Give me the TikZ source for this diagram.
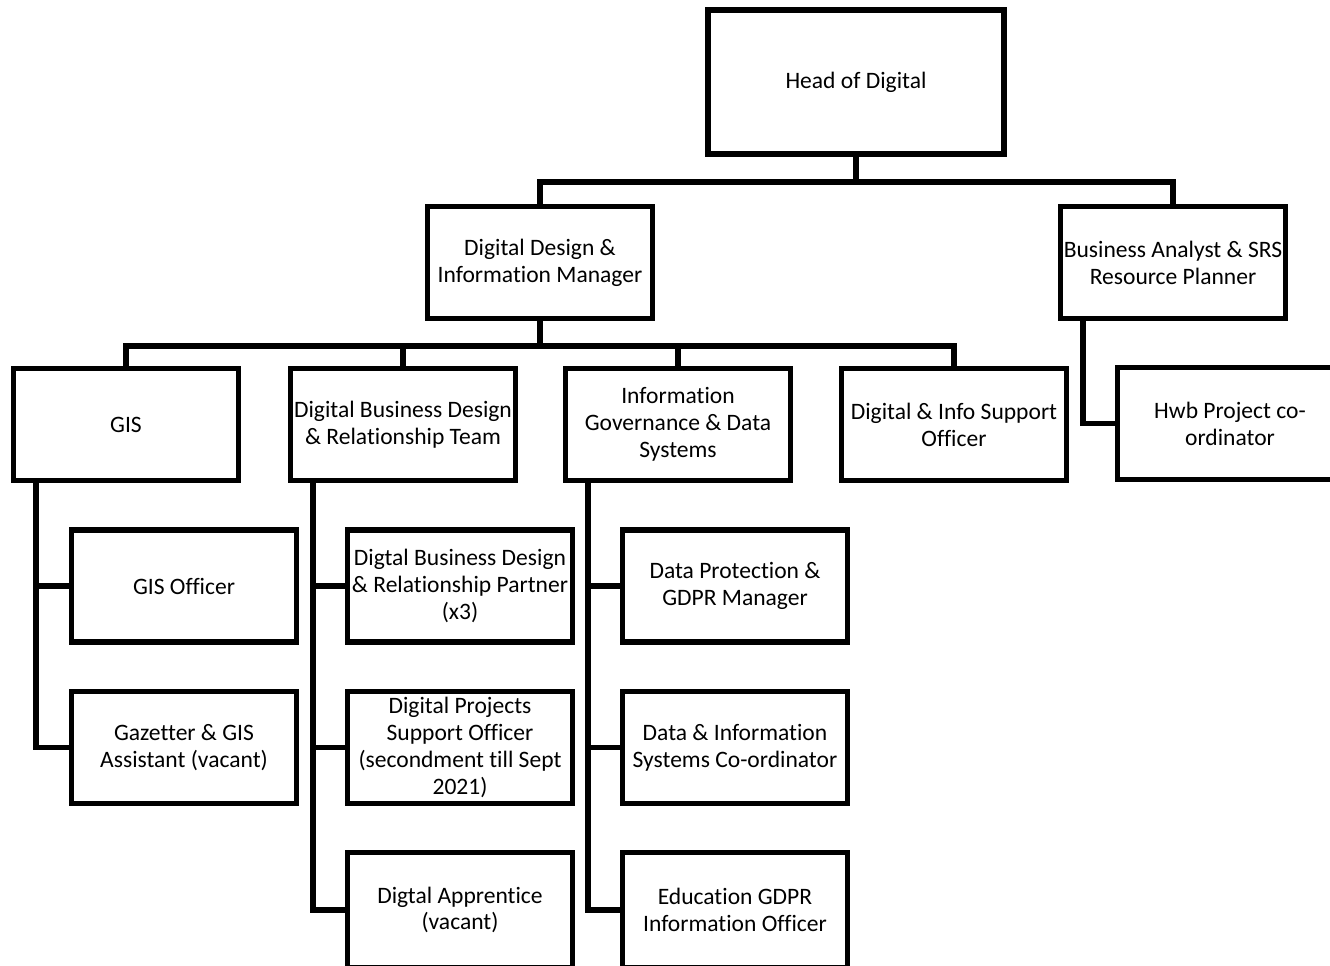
\documentclass[tikz,border=0pt]{standalone}
\usepackage{fontspec}
\setmainfont{Carlito}[Ligatures={NoCommon}]
\usepackage{tikz}
\usetikzlibrary{positioning,calc}

\tikzset{
    post/.style={draw, rectangle, line width=2.9pt, minimum width=4.5cm, minimum height=2.24cm, align=center, inner sep=0pt, font=\fontsize{13.4}{15.3}\selectfont},
    link/.style={line width=2.9pt}
}

\begin{document}
\begin{tikzpicture}
    \useasboundingbox (0,0) rectangle (26.6,-19.32);
    \clip (0,0) rectangle (26.6,-19.32);

    % Top level
    \node [post, minimum width=5.92cm, minimum height=2.88cm] (head) at (17.12,-1.64) {Head of Digital};
    \node [post] (ddim) at (10.8,-5.25) {Digital Design \&\\Information Manager};
    \node [post] (ba) at (23.46,-5.25) {Business Analyst \& SRS\\Resource Planner};

    % Teams
    \node [post] (gis) at (2.52,-8.49) {GIS};
    \node [post] (dbdrt) at (8.06,-8.49) {Digital Business Design\\\& Relationship Team};
    \node [post] (igds) at (13.56,-8.49) {Information\\Governance \& Data\\Systems};
    \node [post] (diso) at (19.08,-8.49) {Digital \& Info Support\\Officer};
    \node [post] (hwb) at (24.6,-8.47) {Hwb Project co-\\ordinator};

    % Posts under the teams
    \node [post] (gisoff) at (3.68,-11.72) {GIS Officer};
    \node [post] (gaz) at (3.68,-14.95) {Gazetter \& GIS\\Assistant (vacant)};
    \node [post] (dbdrp) at (9.2,-11.72) {Digtal Business Design\\\& Relationship Partner\\(x3)};
    \node [post] (dpso) at (9.2,-14.95) {Digital Projects\\Support Officer\\(secondment till Sept\\2021)};
    \node [post, minimum height=2.3cm] (appr) at (9.2,-18.2) {Digtal Apprentice\\(vacant)};
    \node [post] (dpgm) at (14.7,-11.72) {Data Protection \&\\GDPR Manager};
    \node [post] (disc) at (14.7,-14.95) {Data \& Information\\Systems Co-ordinator};
    \node [post, minimum height=2.3cm] (egio) at (14.7,-18.2) {Education GDPR\\Information Officer};

    % Connections
    \coordinate (bus1) at (17.12,-3.64);
    \coordinate (bus2) at (10.8,-6.92);
    \draw [link] (head.south) -- (bus1);
    \draw [link] (ddim.north) |- (bus1);
    \draw [link] (ba.north) |- (bus1);
    \draw [link] (ddim.south) -- (bus2);
    \foreach \t in {gis, dbdrt, igds, diso} {
        \draw [link] (\t.north) |- (bus2);
    }
    \foreach \t/\c in {gis/gisoff, gis/gaz, dbdrt/dbdrp, dbdrt/dpso, dbdrt/appr, igds/dpgm, igds/disc, igds/egio, ba/hwb} {
        \draw [link] ([xshift=0.5cm]\t.south west) |- (\c.west);
    }
\end{tikzpicture}
\end{document}
